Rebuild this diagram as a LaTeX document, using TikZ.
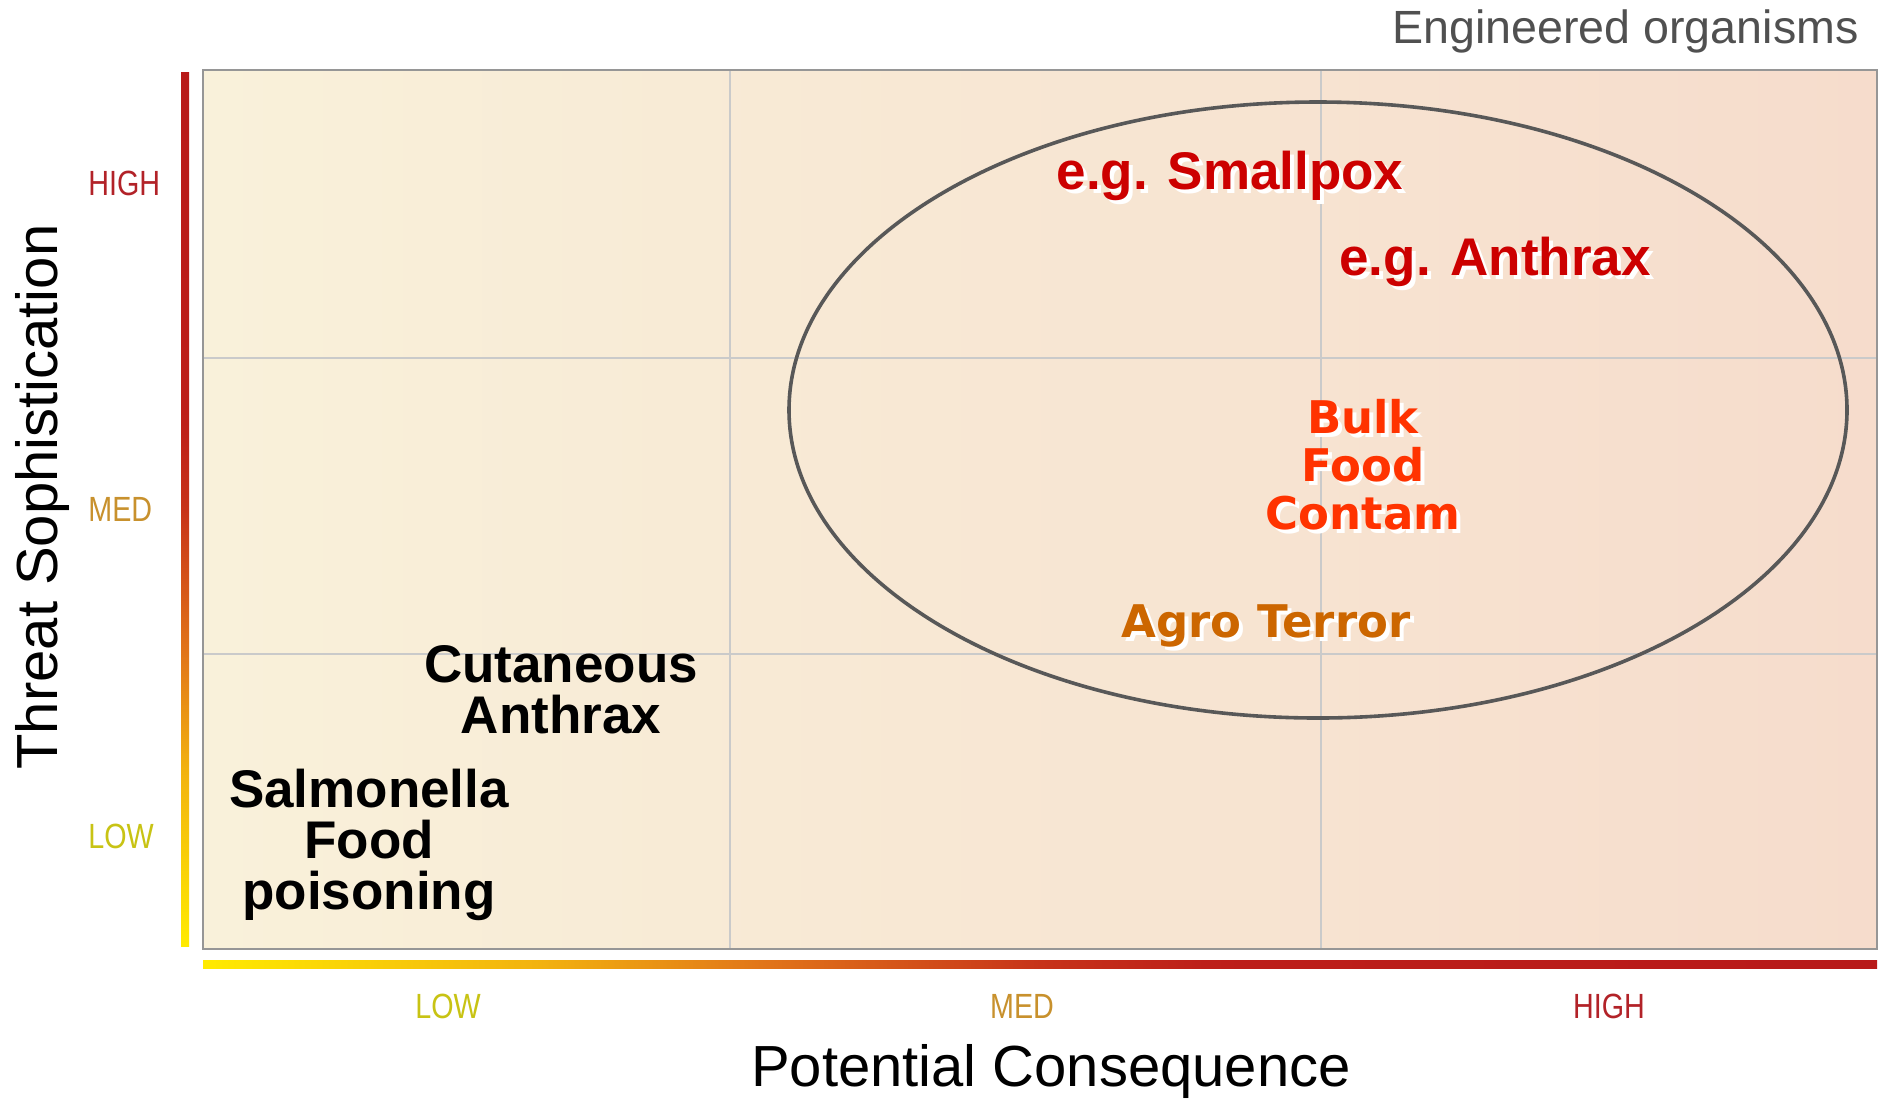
\documentclass[tikz,border=0pt]{standalone}
\usepackage{fontspec}
\setmainfont{Liberation Sans}
\newfontfamily\widefont{DejaVu Sans}
\newfontfamily\narrowfont[FakeStretch=0.82]{Liberation Sans}
\usepackage{tikz}
\usetikzlibrary{positioning,calc}
\definecolor{framegray}{RGB}{150,150,150}
\definecolor{gridgray}{RGB}{202,202,202}
\definecolor{ringgray}{RGB}{88,88,88}
\definecolor{titlegray}{RGB}{80,80,80}
\definecolor{creamleft}{RGB}{249,241,218}
\definecolor{creammid}{RGB}{248,234,214}
\definecolor{pinkright}{RGB}{246,220,204}
\definecolor{levelhigh}{RGB}{178,34,40}
\definecolor{levelmed}{RGB}{200,145,45}
\definecolor{levellow}{RGB}{200,195,20}
\definecolor{agentred}{RGB}{204,0,0}
\definecolor{foodred}{RGB}{255,51,0}
\definecolor{agroorange}{RGB}{204,102,0}
\pgfdeclarehorizontalshading{heatbar}{100bp}{rgb(0bp)=(1,0.92,0); rgb(25bp)=(1,0.92,0); rgb(35bp)=(0.95,0.7,0.06); rgb(42bp)=(0.88,0.45,0.1); rgb(50bp)=(0.78,0.2,0.1); rgb(55bp)=(0.74,0.12,0.1); rgb(75bp)=(0.72,0.1,0.1); rgb(100bp)=(0.72,0.1,0.1)}
\pgfdeclareverticalshading{heatcolumn}{100bp}{rgb(0bp)=(1,0.92,0); rgb(25bp)=(1,0.92,0); rgb(35bp)=(0.95,0.7,0.06); rgb(42bp)=(0.88,0.45,0.1); rgb(50bp)=(0.78,0.2,0.1); rgb(55bp)=(0.74,0.12,0.1); rgb(75bp)=(0.72,0.1,0.1); rgb(100bp)=(0.72,0.1,0.1)}
\tikzset{
	every node/.style={inner sep=0pt}
}
\tikzset{
	x=0.5pt,y=-0.5pt,
	grid line/.style={draw=gridgray,line width=1pt},
	ring/.style={draw=ringgray,line width=1.8pt},
	level label/.style={font=\narrowfont\fontsize{17.5}{20}\selectfont},
	axis title/.style={font=\fontsize{29}{32}\selectfont},
	case label/.style={font=\bfseries\fontsize{26.5}{25.5}\selectfont,align=center},
	wide label/.style={font=\widefont\bfseries\fontsize{22.5}{24}\selectfont,align=center},
	shadow copy/.style={text=white}
}

\begin{document}
\begin{tikzpicture}
      \useasboundingbox (0,0) rectangle (1883,1099);
      \fill[white] (0,0) rectangle (1883,1099);
      % plot area
      \shade[left color=creamleft,middle color=creammid,right color=pinkright] (203,70) rectangle (1877,949);
      \draw[grid line] (730,70) -- (730,949);
      \draw[grid line] (1321,70) -- (1321,949);
      \draw[grid line] (203,358) -- (1877,358);
      \draw[grid line] (203,654) -- (1877,654);
      \draw[framegray,line width=1.2pt] (203,70) rectangle (1877,949);
      % scale bars
      \shade[shading=heatcolumn] (181,72) rectangle (189,946);
      \shade[shading=heatbar] (203,960) rectangle (1877,968);
      \draw[ring] (1318,410) ellipse [x radius=529,y radius=308];
      % levels
      \node[level label,text=levelhigh,anchor=west] (yhigh) at (88,183) {HIGH};
      \node[level label,text=levelmed,anchor=west] (ymed) at (88,509) {MED};
      \node[level label,text=levellow,anchor=west] (ylow) at (88,836) {LOW};
      \node[level label,text=levellow] (xlow) at (448,1006) {LOW};
      \node[level label,text=levelmed] (xmed) at (1022,1006) {MED};
      \node[level label,text=levelhigh] (xhigh) at (1609,1006) {HIGH};
      % titles
      \node[axis title] (xtitle) at (1051,1071) {Potential Consequence};
      \node[axis title,rotate=90] (ytitle) at (43,497) {Threat Sophistication};
      \node[font=\fontsize{23.3}{26}\selectfont,text=titlegray,anchor=base east] (tag) at (1859,43) {Engineered organisms};
      % threats
      \node[case label] (salmonella) at (369,845) {Salmonella\\Food\\poisoning};
      \node[case label] (cutaneous) at (561,690) {Cutaneous\\Anthrax};
      \node[case label,shadow copy] (smallpox-s) at (1234,180) {e.g. Smallpox};
      \node[case label,text=agentred] (smallpox) at (1230,176) {e.g. Smallpox};
      \node[case label,shadow copy] (anthrax-s) at (1499,266) {e.g. Anthrax};
      \node[case label,text=agentred] (anthrax) at (1495,262) {e.g. Anthrax};
      \node[wide label,shadow copy] (bulk-s) at (1367,469) {Bulk\\Food\\Contam};
      \node[wide label,text=foodred] (bulk) at (1363,465) {Bulk\\Food\\Contam};
      \node[wide label,shadow copy] (agro-s) at (1270,630) {Agro Terror};
      \node[wide label,text=agroorange] (agro) at (1266,626) {Agro Terror};
\end{tikzpicture}
\end{document}
